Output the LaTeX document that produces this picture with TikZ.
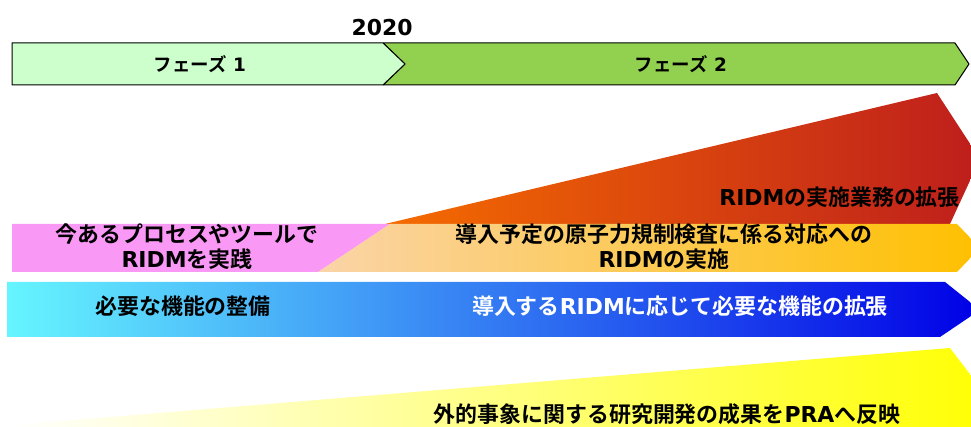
\documentclass[tikz,border=0pt]{standalone}
\usepackage{fontspec}
\setmainfont{Noto Sans CJK JP}[BoldFont={Noto Sans CJK JP Bold}]
\newfontfamily\latfont{DejaVu Sans}
\newcommand{\en}[1]{{\latfont\bfseries #1}}
\definecolor{phaseone}{RGB}{204,255,204}
\definecolor{phasetwo}{RGB}{146,208,80}
\definecolor{pinkband}{RGB}{250,152,246}
\definecolor{peach}{RGB}{250,212,168}
\definecolor{amber}{RGB}{255,192,0}
\definecolor{redorange}{RGB}{245,108,0}
\definecolor{darkred}{RGB}{190,30,28}
\definecolor{cyanband}{RGB}{102,245,255}
\definecolor{midblue}{RGB}{30,150,255}
\definecolor{deepblue}{RGB}{0,0,230}
\begin{document}
\begin{tikzpicture}[line join=bevel,
    phasebox/.style={draw=black,line width=1bp},
    big/.style={font=\bfseries\fontsize{22}{25}\selectfont,align=center,inner sep=0pt},
    small/.style={font=\bfseries\fontsize{18.5}{22}\selectfont,inner sep=0pt}]
    %%
    \useasboundingbox (0bp,0bp) rectangle (971bp,427bp);
    \clip (0bp,0bp) rectangle (971bp,427bp);
    % phase bar
    \draw [phasebox,fill=phasetwo] (383bp,384bp) -- (955bp,384bp) -- (969bp,363bp) -- (955bp,342bp) -- (383bp,342bp) -- (405bp,363bp) -- cycle;
    \draw [phasebox,fill=phaseone] (12bp,384bp) -- (383bp,384bp) -- (405bp,363bp) -- (383bp,342bp) -- (12bp,342bp) -- cycle;
    \node (t2020) at (382bp,399bp) [font=\fontsize{22}{26}\selectfont,inner sep=0pt] {\en{2020}};
    \node (ph1) at (200bp,363bp) [small] {フェーズ\en{ 1}};
    \node (ph2) at (681bp,363bp) [small] {フェーズ\en{ 2}};
    % bands
    \path [left color=redorange,right color=darkred] (385bp,203bp) -- (937bp,334bp) -- (980bp,268bp) -- (950bp,203bp) -- cycle;
    \fill [pinkband] (12bp,203bp) -- (390bp,203bp) -- (318bp,155bp) -- (12bp,155bp) -- cycle;
    \path [left color=peach,right color=amber] (390bp,203bp) -- (957bp,203bp) -- (980bp,179bp) -- (957bp,155bp) -- (318bp,155bp) -- cycle;
    \path [left color=cyanband,middle color=midblue,right color=deepblue] (7bp,145bp) -- (945bp,145bp) -- (980bp,117bp) -- (940bp,90bp) -- (7bp,90bp) -- cycle;
    \path [left color=white,right color=yellow] (12bp,-5bp) -- (12bp,2bp) -- (950bp,79bp) -- (995bp,20bp) -- (1000bp,-5bp) -- cycle;
    % labels
    \node (expand) at (960bp,230bp) [big,anchor=east] {\en{RIDM}の実施業務の拡張};
    \node (now) at (187bp,180bp) [big] {今あるプロセスやツールで\\\en{RIDM}を実践};
    \node (insp) at (664bp,180bp) [big] {導入予定の原子力規制検査に係る対応への\\\en{RIDM}の実施};
    \node (func) at (183bp,121bp) [big] {必要な機能の整備};
    \node (funcx) at (680bp,121bp) [big,text=white] {導入する\en{RIDM}に応じて必要な機能の拡張};
    \node (ext) at (667bp,13bp) [big] {外的事象に関する研究開発の成果を\en{PRA}へ反映};
    %
\end{tikzpicture}
\end{document}
